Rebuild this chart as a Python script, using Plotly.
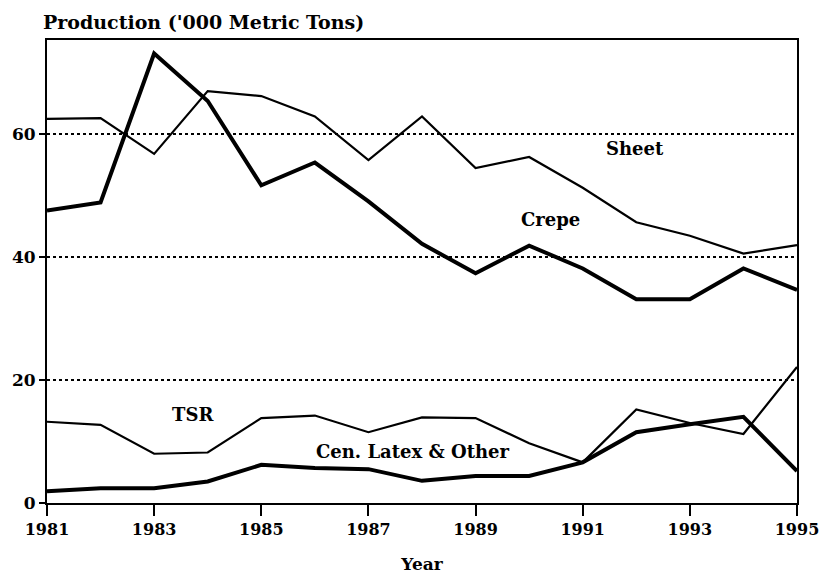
import plotly.graph_objects as go

years = list(range(1981, 1996))
sheet = [62.4, 62.5, 56.7, 66.9, 66.1, 62.8, 55.7, 62.8, 54.4, 56.2, 51.2, 45.6, 43.4, 40.5, 41.9]
crepe = [47.5, 48.8, 73.0, 65.3, 51.6, 55.3, 49.0, 42.1, 37.3, 41.8, 38.1, 33.1, 33.1, 38.1, 34.6]
tsr = [13.2, 12.7, 8.0, 8.2, 13.8, 14.2, 11.5, 13.9, 13.8, 9.7, 6.6, 15.2, 13.0, 11.2, 22.1]
cen_latex = [1.9, 2.4, 2.4, 3.5, 6.2, 5.7, 5.5, 3.6, 4.4, 4.4, 6.6, 11.5, 12.8, 14.0, 5.2]

x_ticks = [1981, 1983, 1985, 1987, 1989, 1991, 1993, 1995]
y_ticks = [0, 20, 40, 60]

labels = ["Sheet", "Crepe", "TSR", "Cen. Latex & Other"]
label_x = [1991.97, 1990.39, 1983.72, 1987.83]
label_y = [57.6, 46.1, 14.3, 8.4]

FONT = "DejaVu Serif"

fig = go.Figure()
fig.add_trace(go.Scatter(x=years, y=sheet, mode="lines", name="Sheet",
                         line=dict(color="black", width=2.2)))
fig.add_trace(go.Scatter(x=years, y=crepe, mode="lines", name="Crepe",
                         line=dict(color="black", width=4)))
fig.add_trace(go.Scatter(x=years, y=tsr, mode="lines", name="TSR",
                         line=dict(color="black", width=2.2)))
fig.add_trace(go.Scatter(x=years, y=cen_latex, mode="lines", name="Cen. Latex & Other",
                         line=dict(color="black", width=4)))

for t, xx, yy in zip(labels, label_x, label_y):
    fig.add_annotation(x=xx, y=yy, text=t, showarrow=False,
                       font=dict(family=FONT, size=18, color="black", weight="bold"))

fig.update_layout(
    width=831, height=583,
    margin=dict(l=42, r=26, t=40, b=74),
    paper_bgcolor="white", plot_bgcolor="white",
    showlegend=False,
    font=dict(family=FONT, size=16, color="black", weight="bold"),
    title=dict(text="Production ('000 Metric Tons)", x=43/831, xanchor="left",
               y=1 - 22/583, yanchor="middle",
               font=dict(family=FONT, size=19, color="black", weight="bold")),
    xaxis=dict(range=[1981, 1995], tickvals=x_ticks, ticktext=[str(v) for v in x_ticks],
               ticks="outside", ticklen=11, tickwidth=2, tickcolor="black",
               tickfont=dict(family=FONT, size=16, color="black", weight="bold"),
               showline=True, linecolor="black", linewidth=2, mirror=True,
               showgrid=False, zeroline=False,
               title=dict(text="Year", standoff=20,
                          font=dict(family=FONT, size=17, color="black", weight="bold"))),
    xaxis2=dict(range=[1981, 1995], overlaying="x", side="bottom", anchor="y",
                tickvals=years, ticks="inside", ticklen=9, tickwidth=2, tickcolor="black",
                showticklabels=False, showgrid=False, zeroline=False, showline=False),
    yaxis=dict(range=[0, 75.2], tickvals=y_ticks, ticks="outside", ticklen=6, tickwidth=2,
               tickcolor="black", tickfont=dict(family=FONT, size=17, color="black", weight="bold"),
               showline=True, linecolor="black", linewidth=2, mirror=True,
               showgrid=True, gridcolor="black", griddash="dot", gridwidth=1.5,
               zeroline=False),
)

fig.write_html("out.html", config={"displayModeBar": False},
               post_script="document.body.style.margin='0';document.body.style.overflow='hidden';")
